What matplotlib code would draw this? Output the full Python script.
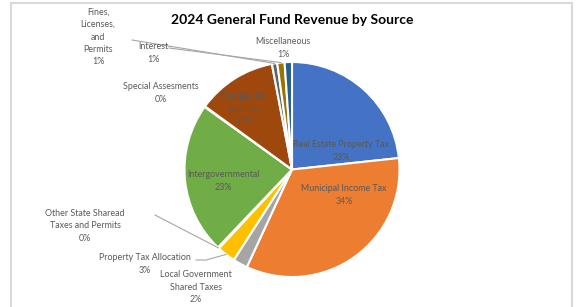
#!/usr/bin/env python

# 2024 General Fund revenue by source - Excel-style pie

import numpy as np
import matplotlib
matplotlib.use('Agg')
import matplotlib.pyplot as plt

sources = ['Real Estate Property Tax', 'Municipal Income Tax',
           'Local Government\nShared Taxes', 'Property Tax Allocation',
           'Other State Sharead\nTaxes and Permits', 'Intergovernmental',
           'Special Assesments', 'Charges for\nServices',
           'Fines,\nLicenses,\nand\nPermits', 'Interest', 'Miscellaneous']
shares = [23.3, 33.6, 2.2, 2.8, 0.2, 22.8, 0.1, 12.0, 0.8, 1.1, 1.1]
pct_labels = ['23%', '34%', '2%', '3%', '0%', '23%', '0%', '12%', '1%', '1%', '1%']
colours = ['#4472C4', '#ED7D31', '#A5A5A5', '#FFC000', '#5B9BD5', '#70AD47',
           '#264478', '#9E480E', '#636363', '#997300', '#255E91']

W, H = 582, 307
fig = plt.figure(figsize=(W/100, H/100), dpi=100, facecolor='white')
ax = fig.add_axes([0, 0, 1, 1])

cx, cy, r = 292, H-169.5, 107.5
wedges, _ = ax.pie(shares, colors=colours, startangle=90, counterclock=False,
                   center=(cx, cy), radius=r, frame=True,
                   wedgeprops=dict(edgecolor='white', linewidth=1.5))
ax.set_xlim(0, W)
ax.set_ylim(0, H)
ax.set_axis_off()

# chart frame (bottom edge cut off like the screenshot)
ax.plot([11, 11, 572, 572], [0, H-3, H-3, 0], color='#d9d9d9', lw=1.5,
        solid_joinstyle='miter')

font = 'Lato'
grey = '#595959'

ax.text(292, H-20, '2024 General Fund Revenue by Source', ha='center',
        va='center', fontsize=10, fontweight='bold', family=font, color='black')

# label centres in screen pixels (x, y from top)
label_pos = [(341, 151), (344, 195), (196, 287), (145, 264), (85, 226),
             (223, 181), (161, 93), (244, 109), (98, 37), (153, 53), (283, 48)]

for name, pct, (lx, ly) in zip(sources, pct_labels, label_pos):
    ax.text(lx, H-ly, name + '\n' + pct, ha='center', va='center',
            fontsize=6.4, family=font, color=grey, linespacing=1.5)

def edge_point(i, frac=1.0):
    w = wedges[i]
    a = np.deg2rad((w.theta1 + w.theta2) / 2)
    return cx + r*frac*np.cos(a), cy + r*frac*np.sin(a)

# leader lines
leaders = {8: [(132, 40)], 9: [(169, 48)], 4: [(155, 215)],
           3: [(196, 260), (206, 260)]}
for i, pts in leaders.items():
    ex, ey = edge_point(i)
    xs = [p[0] for p in pts] + [ex]
    ys = [H-p[1] for p in pts] + [ey]
    ax.plot(xs, ys, color='#a6a6a6', lw=0.8)

fig.savefig('out.png', dpi=100, facecolor='white')
